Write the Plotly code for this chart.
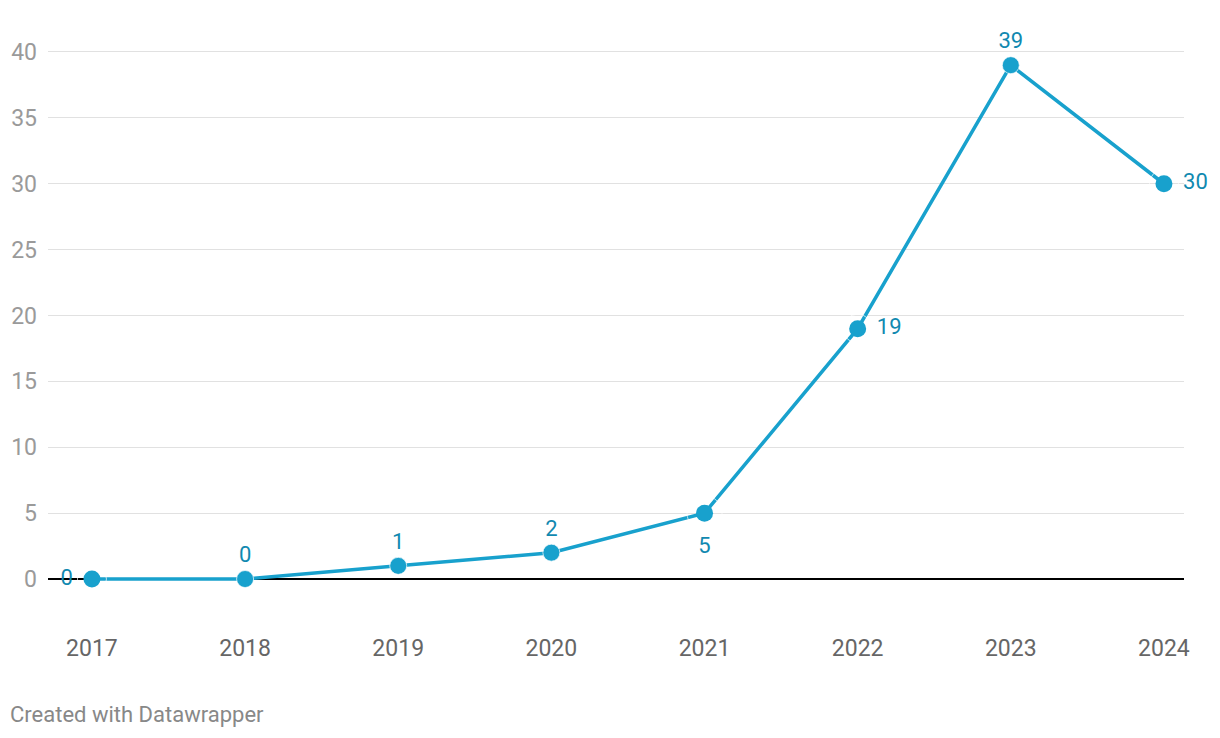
import plotly.graph_objects as go

years = [2017, 2018, 2019, 2020, 2021, 2022, 2023, 2024]
values = [0, 0, 1, 2, 5, 19, 39, 30]
label_pos = ["middle left", "top center", "top center", "top center",
             "bottom center", "middle right", "top center", "middle right"]
y_ticks = [0, 5, 10, 15, 20, 25, 30, 35, 40]

line_color = "#18a1cd"
label_color = "#1189b0"

# invisible marker sizes used only to space the value labels from the points
label_pad = [29 if p.startswith("middle") else (35 if p.startswith("bottom") else 17)
             for p in label_pos]

fig = go.Figure()
fig.add_trace(go.Scatter(
    x=years, y=values,
    mode="lines+markers",
    line=dict(color=line_color, width=3.5),
    marker=dict(color=line_color, size=17),
    cliponaxis=False,
    hoverinfo="skip",
))
fig.add_trace(go.Scatter(
    x=years, y=values,
    mode="markers+text",
    marker=dict(color="rgba(0,0,0,0)", size=label_pad),
    text=[str(v) for v in values],
    textposition=label_pos,
    textfont=dict(family="Roboto", size=22, color=label_color),
    cliponaxis=False,
    hoverinfo="skip",
))

fig.update_layout(
    width=1212, height=730,
    margin=dict(l=40, r=36, t=32, b=118, autoexpand=False),
    paper_bgcolor="white", plot_bgcolor="white",
    showlegend=False,
    font=dict(family="Roboto"),
    xaxis=dict(
        range=[2017 - 0.287, 2024 + 0.131],
        tickmode="array", tickvals=years, ticktext=[str(y) for y in years],
        showgrid=False, zeroline=False, showline=False,
        tickfont=dict(family="Roboto", size=23, color="#666666"),
        ticks="", ticklabelstandoff=12, automargin=False,
    ),
    yaxis=dict(
        range=[-3.11, 40.91],
        tickmode="array", tickvals=y_ticks, ticktext=[str(t) for t in y_ticks],
        showgrid=True, gridcolor="#e1e1e1", gridwidth=1,
        zeroline=True, zerolinecolor="#000000", zerolinewidth=1.6,
        showline=False, ticks="",
        tickfont=dict(family="Roboto", size=23, color="#9a9a9a"),
        ticklabelstandoff=10, automargin=False,
    ),
)

fig.add_annotation(
    text="Created with Datawrapper", xref="paper", yref="paper",
    x=0, y=0, xanchor="left", yanchor="middle",
    xshift=-40, yshift=-(706 - 612),
    showarrow=False,
    font=dict(family="Roboto", size=22, color="#888888"),
)

fig.write_html("out.html")
